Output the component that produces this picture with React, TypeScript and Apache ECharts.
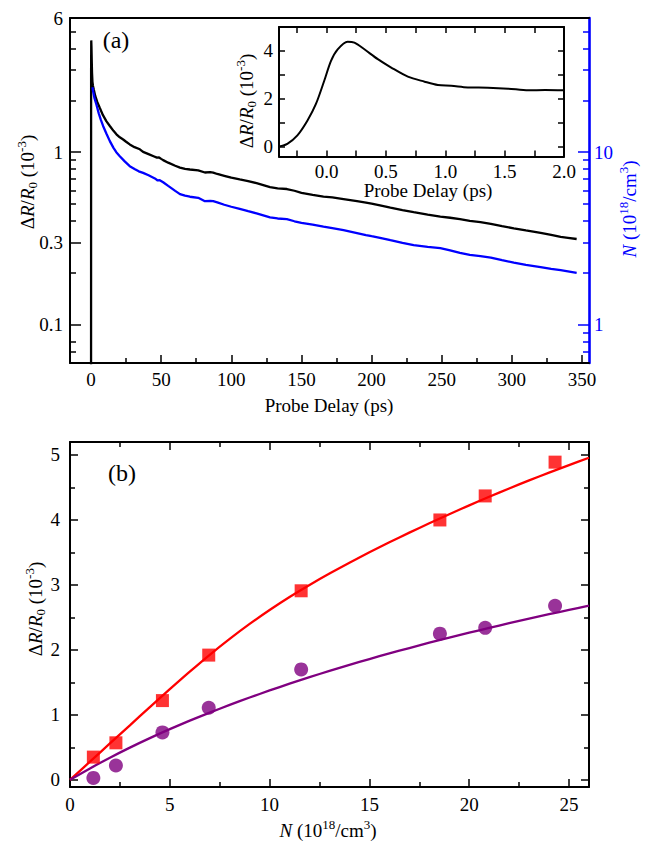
import React, { useEffect, useRef } from 'react';
import * as echarts from 'echarts';

const FONT = "'Liberation Serif', 'Times New Roman', Times, serif";
const BLUE = '#0000ff';
const RED = '#ff0000';
const PURPLE = '#800080';

// ---- Panel (a): decay traces ----
const blackT = [-2, 0, 0.05, 0.15, 0.3, 0.5, 0.7, 1.0, 1.4, 2, 3, 4.5, 6.2, 8.5, 11, 13.4, 16, 18.1, 20.5, 22.9, 25, 27.6, 31, 34.8, 37.1, 41, 45, 47, 48.5, 50, 51.4, 55, 60, 63.4, 67, 70.5, 76.4, 81.2, 85, 87.1, 90, 95, 100, 106, 112, 118, 127.6, 133, 139.6, 145, 150, 158, 165.7, 172, 180, 189.6, 196, 200, 206, 213.4, 222, 230, 240, 249, 256, 263, 270, 277.6, 285, 293, 301.4, 310, 320.5, 328, 334.8, 340, 346.2];
const blackV = [0.01, 0.01, 3.0, 4.45, 4.1, 3.4, 2.9, 2.56, 2.42, 2.3, 2.12, 1.95, 1.81, 1.64, 1.51, 1.42, 1.33, 1.27, 1.22, 1.185, 1.15, 1.11, 1.07, 1.04, 1.005, 0.975, 0.945, 0.93, 0.932, 0.915, 0.9, 0.87, 0.835, 0.815, 0.8, 0.794, 0.785, 0.763, 0.766, 0.762, 0.748, 0.73, 0.712, 0.695, 0.68, 0.662, 0.628, 0.618, 0.612, 0.598, 0.582, 0.566, 0.553, 0.547, 0.535, 0.52, 0.51, 0.503, 0.492, 0.477, 0.462, 0.449, 0.435, 0.423, 0.417, 0.409, 0.4, 0.393, 0.384, 0.373, 0.362, 0.352, 0.341, 0.332, 0.323, 0.319, 0.314];

const blueT = [1.0, 1.5, 2.5, 3.8, 5.5, 7, 8.6, 11, 13.4, 16, 18, 20.5, 24, 27.6, 31, 34, 37.1, 41, 45.5, 47.5, 49, 51.4, 55, 60, 63.4, 67, 70.5, 76.4, 81.2, 85, 87.1, 90, 95, 100, 106, 112, 118, 127.6, 133, 139.6, 145, 150, 158, 165.7, 172, 180, 189.6, 196, 200, 206, 213.4, 222, 230, 240, 249, 256, 263, 270, 277.6, 285, 293, 301.4, 310, 320.5, 328, 334.8, 340, 346.2];
const blueN = [23.8, 22.5, 20.5, 18.9, 16.8, 15.4, 14.2, 12.8, 11.6, 10.6, 10.0, 9.48, 8.85, 8.3, 8.0, 7.75, 7.59, 7.35, 7.05, 6.86, 6.88, 6.7, 6.38, 5.97, 5.72, 5.6, 5.52, 5.44, 5.2, 5.22, 5.2, 5.12, 4.96, 4.83, 4.69, 4.55, 4.42, 4.19, 4.13, 4.09, 3.98, 3.9, 3.8, 3.7, 3.63, 3.53, 3.4, 3.31, 3.26, 3.19, 3.09, 2.98, 2.89, 2.83, 2.78, 2.7, 2.61, 2.54, 2.5, 2.45, 2.37, 2.29, 2.22, 2.16, 2.11, 2.07, 2.04, 2.0];

// ---- Inset ----
const insetT = [-0.4, -0.33, -0.245, -0.16, -0.089, -0.019, 0.038, 0.094, 0.178, 0.235, 0.319, 0.432, 0.545, 0.685, 0.826, 0.938, 1.05, 1.19, 1.36, 1.53, 1.7, 1.84, 2.0];
const insetV = [0.02, 0.13, 0.48, 1.1, 1.79, 2.76, 3.59, 4.07, 4.39, 4.35, 4.07, 3.66, 3.31, 2.93, 2.72, 2.58, 2.55, 2.48, 2.47, 2.43, 2.36, 2.37, 2.36];

// ---- Panel (b) ----
const densN = [1.17, 2.3, 4.63, 6.95, 11.58, 18.53, 20.8, 24.3];
const redVals = [0.35, 0.57, 1.22, 1.92, 2.91, 4.0, 4.37, 4.89];
const purpleVals = [0.03, 0.22, 0.73, 1.11, 1.7, 2.25, 2.34, 2.68];
const fitN = [0, 1, 2, 3, 4, 5, 6, 7, 8, 9, 10, 11, 12, 13, 14, 15, 16, 17, 18, 19, 20, 21, 22, 23, 24, 25, 26];
const redFit = [0, 0.28, 0.56, 0.84, 1.12, 1.395, 1.665, 1.925, 2.17, 2.4, 2.615, 2.815, 3.0, 3.175, 3.342, 3.502, 3.656, 3.805, 3.949, 4.089, 4.225, 4.357, 4.485, 4.609, 4.729, 4.845, 4.957];
const purpleFit = [0, 0.176, 0.341, 0.496, 0.642, 0.78, 0.911, 1.035, 1.154, 1.267, 1.376, 1.48, 1.58, 1.677, 1.77, 1.859, 1.946, 2.029, 2.111, 2.189, 2.265, 2.339, 2.411, 2.481, 2.549, 2.616, 2.68];

// ---- Tick labels / tick positions ----
const xLabelsA = [0, 50, 100, 150, 200, 250, 300, 350];
const xMinorA = [25, 75, 125, 175, 225, 275, 325];
const yLabelsA = [0.1, 0.3, 1, 6];
const yMajorA = [0.1, 0.3, 1];
const yMinorA = [0.07, 0.08, 0.2, 0.4, 0.5, 0.6, 0.7, 0.8, 0.9, 2, 3, 4, 5];
const nLabelsA = [1, 10];
const nMinorA = [0.7, 0.8, 0.9, 2, 3, 4, 5, 6, 7, 8, 9, 20, 30, 40, 50];
const insetXLabels = [0, 0.5, 1, 1.5, 2];
const insetXTicks = [-0.25, 0, 0.25, 0.5, 0.75, 1, 1.25, 1.5, 1.75];
const insetYLabels = [0, 2, 4];
const insetYTicks = [0, 1, 2, 3, 4];
const xLabelsB = [0, 5, 10, 15, 20, 25];
const xMinorB = [2.5, 7.5, 12.5, 17.5, 22.5];
const yLabelsB = [0, 1, 2, 3, 4, 5];
const yMinorB = [0.5, 1.5, 2.5, 3.5, 4.5];

type AxOpt = {
  grid: number; pos: string; type?: string; min: number; max: number;
  line?: boolean; color?: string; lineWidth?: number;
  ticks?: number[]; tickLen?: number; labels?: number[]; margin?: number;
  fmt?: (v: number) => string;
};

function mkAxis(o: AxOpt) {
  const color = o.color || '#000';
  const ax: any = {
    type: o.type || 'value',
    gridIndex: o.grid,
    position: o.pos,
    min: o.min,
    max: o.max,
    splitLine: { show: false },
    minorTick: { show: false },
    axisLine: { show: !!o.line, onZero: false, lineStyle: { color, width: o.lineWidth || 2 } },
    axisTick: o.ticks
      ? { show: true, inside: true, length: o.tickLen || 6, customValues: o.ticks, lineStyle: { color, width: 1.5 } }
      : { show: false },
    axisLabel: o.labels
      ? { show: true, customValues: o.labels, margin: o.margin ?? 8, color, fontSize: 19, fontFamily: FONT }
      : { show: false },
  };
  if (o.labels && o.fmt) ax.axisLabel.formatter = o.fmt;
  return ax;
}

const logFmt = (v: number) => String(+Number(v).toPrecision(3));

function mkRich(fill: string) {
  return {
    n: { fontSize: 19, fontFamily: FONT, lineHeight: 24, fill },
    i: { fontSize: 19, fontFamily: FONT, fontStyle: 'italic', lineHeight: 24, fill },
    sub: { fontSize: 13, fontFamily: FONT, lineHeight: 12, verticalAlign: 'bottom', fill },
    sup: { fontSize: 13, fontFamily: FONT, lineHeight: 12, verticalAlign: 'top', fill },
  };
}

const dTitle = '{n|Δ}{i|R}{n|/}{i|R}{sub|0}{n| (10}{sup|-3}{n|)}';
const nTitle = '{i|N}{n| (10}{sup|18}{n|/cm}{sup|3}{n|)}';

function txt(x: number, y: number, text: string, opts: any = {}) {
  return {
    type: 'text',
    x, y,
    rotation: opts.rotation || 0,
    z: 100,
    style: {
      text,
      rich: opts.rich,
      fill: opts.fill || '#000',
      fontSize: opts.fontSize || 19,
      fontFamily: FONT,
      align: 'center',
      verticalAlign: 'middle',
      textAlign: 'center',
      textVerticalAlign: 'middle',
    },
  };
}

export default function App() {
  const ref = useRef<HTMLDivElement>(null);
  useEffect(() => {
    if (!ref.current) return;
    const chart = echarts.init(ref.current, undefined, { renderer: 'svg' });
    const option: any = {
      animation: false,
      backgroundColor: '#fff',
      grid: [
        { left: 70, top: 18, width: 519, height: 345, containLabel: false, outerBoundsMode: 'none' },
        { left: 279, top: 27, width: 285, height: 129.5, containLabel: false, outerBoundsMode: 'none' },
        { left: 70, top: 442, width: 519, height: 345, containLabel: false, outerBoundsMode: 'none' },
      ],
      xAxis: [
        mkAxis({ grid: 0, pos: 'bottom', min: -15, max: 355, line: true, ticks: xLabelsA, tickLen: 8, labels: xLabelsA, margin: 7 }),
        mkAxis({ grid: 0, pos: 'bottom', min: -15, max: 355, ticks: xMinorA, tickLen: 5 }),
        mkAxis({ grid: 0, pos: 'top', min: -15, max: 355, line: true }),
        mkAxis({ grid: 1, pos: 'bottom', min: -0.4, max: 2.0, line: true, ticks: insetXTicks, tickLen: 6, labels: insetXLabels, margin: 5, fmt: (v: number) => Number(v).toFixed(1) }),
        mkAxis({ grid: 1, pos: 'top', min: -0.4, max: 2.0, line: true, ticks: insetXTicks, tickLen: 6 }),
        mkAxis({ grid: 2, pos: 'bottom', min: 0, max: 26, line: true, ticks: xLabelsB, tickLen: 8, labels: xLabelsB, margin: 8 }),
        mkAxis({ grid: 2, pos: 'bottom', min: 0, max: 26, ticks: xMinorB, tickLen: 5 }),
        mkAxis({ grid: 2, pos: 'top', min: 0, max: 26, line: true, ticks: xLabelsB, tickLen: 8 }),
        mkAxis({ grid: 2, pos: 'top', min: 0, max: 26, ticks: xMinorB, tickLen: 5 }),
      ],
      yAxis: [
        mkAxis({ grid: 0, pos: 'left', type: 'log', min: 0.06, max: 6, line: true, ticks: yMajorA, tickLen: 11, labels: yLabelsA, margin: 7, fmt: logFmt }),
        mkAxis({ grid: 0, pos: 'left', type: 'log', min: 0.06, max: 6, ticks: yMinorA, tickLen: 6 }),
        mkAxis({ grid: 0, pos: 'right', type: 'log', min: 0.6, max: 60, line: true, lineWidth: 2.6, color: BLUE, ticks: nLabelsA, tickLen: 11, labels: nLabelsA, margin: 5, fmt: logFmt }),
        mkAxis({ grid: 0, pos: 'right', type: 'log', min: 0.6, max: 60, color: BLUE, ticks: nMinorA, tickLen: 6 }),
        mkAxis({ grid: 1, pos: 'left', min: -0.4, max: 5, line: true, ticks: insetYTicks, tickLen: 6, labels: insetYLabels, margin: 6 }),
        mkAxis({ grid: 1, pos: 'right', min: -0.4, max: 5, line: true, ticks: insetYTicks, tickLen: 6 }),
        mkAxis({ grid: 2, pos: 'left', min: -0.11, max: 5.2, line: true, ticks: yLabelsB, tickLen: 8, labels: yLabelsB, margin: 10 }),
        mkAxis({ grid: 2, pos: 'left', min: -0.11, max: 5.2, ticks: yMinorB, tickLen: 5 }),
        mkAxis({ grid: 2, pos: 'right', min: -0.11, max: 5.2, line: true, ticks: yLabelsB, tickLen: 8 }),
        mkAxis({ grid: 2, pos: 'right', min: -0.11, max: 5.2, ticks: yMinorB, tickLen: 5 }),
      ],
      series: [
        {
          type: 'line', xAxisIndex: 0, yAxisIndex: 0, symbol: 'none', clip: true,
          data: blackT.map((t, i) => [t, blackV[i]]),
          lineStyle: { color: '#000', width: 2.3 },
        },
        {
          type: 'line', xAxisIndex: 0, yAxisIndex: 2, symbol: 'none', clip: true,
          data: blueT.map((t, i) => [t, blueN[i]]),
          lineStyle: { color: BLUE, width: 2.3 },
        },
        {
          type: 'line', xAxisIndex: 3, yAxisIndex: 4, symbol: 'none', clip: true, smooth: 0.3,
          data: insetT.map((t, i) => [t, insetV[i]]),
          lineStyle: { color: '#000', width: 2 },
        },
        {
          type: 'line', xAxisIndex: 5, yAxisIndex: 6, symbol: 'none', clip: true, smooth: 0.3,
          data: fitN.map((n, i) => [n, redFit[i]]),
          lineStyle: { color: RED, width: 2.3 },
        },
        {
          type: 'line', xAxisIndex: 5, yAxisIndex: 6, symbol: 'none', clip: true, smooth: 0.3,
          data: fitN.map((n, i) => [n, purpleFit[i]]),
          lineStyle: { color: PURPLE, width: 2.3 },
        },
        {
          type: 'scatter', xAxisIndex: 5, yAxisIndex: 6, symbol: 'rect', symbolSize: 13,
          data: densN.map((n, i) => [n, redVals[i]]),
          itemStyle: { color: RED },
          z: 5,
        },
        {
          type: 'scatter', xAxisIndex: 5, yAxisIndex: 6, symbol: 'circle', symbolSize: 14,
          data: densN.map((n, i) => [n, purpleVals[i]]),
          itemStyle: { color: PURPLE },
          z: 5,
        },
      ],
      graphic: [
        txt(116, 40, '(a)', { fontSize: 24 }),
        txt(122, 473, '(b)', { fontSize: 24 }),
        txt(329, 405, 'Probe Delay (ps)'),
        txt(428, 190, 'Probe Delay (ps)'),
        txt(27, 182, dTitle, { rotation: Math.PI / 2, rich: mkRich('#000') }),
        txt(246, 101, dTitle, { rotation: Math.PI / 2, rich: mkRich('#000') }),
        txt(629, 209, nTitle, { rotation: Math.PI / 2, rich: mkRich(BLUE), fill: BLUE }),
        txt(35, 609, dTitle, { rotation: Math.PI / 2, rich: mkRich('#000') }),
        txt(328, 830, nTitle, { rich: mkRich('#000') }),
      ],
    };
    chart.setOption(option);
    return () => chart.dispose();
  }, []);
  return <div ref={ref} style={{ position: 'absolute', left: 0, top: 0, width: 647, height: 842 }} />;
}
